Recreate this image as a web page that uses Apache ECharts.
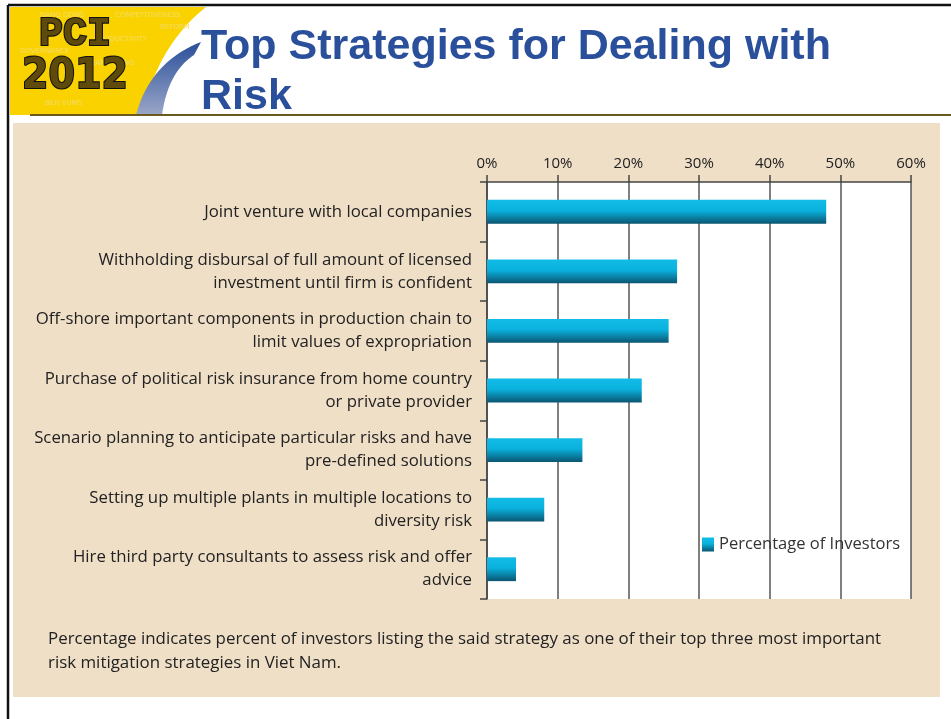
<!DOCTYPE html>
<html>
<head>
<meta charset="utf-8">
<script src="https://cdn.jsdelivr.net/npm/echarts@6/dist/echarts.min.js"></script>
<style>
html,body{margin:0;padding:0;background:#fff;}
#chart{width:951px;height:719px;background: linear-gradient(#efdfc7,#efdfc7) 13px 123px / 927px 574px no-repeat, #fff;}
</style>
</head>
<body>
<div id="chart"></div>
<script>
var categories = [
  'Joint venture with local companies',
  'Withholding disbursal of full amount of licensed\ninvestment until firm is confident',
  'Off-shore important components in production chain to\nlimit values of expropriation',
  'Purchase of political risk insurance from home country\nor private provider',
  'Scenario planning to anticipate particular risks and have\npre-defined solutions',
  'Setting up multiple plants in multiple locations to\ndiversity risk',
  'Hire third party consultants to assess risk and offer\nadvice'
];
var values = [48.0, 26.9, 25.7, 21.9, 13.5, 8.1, 4.1];
var seriesName = 'Percentage of Investors';
var titleLines = ['Top Strategies for Dealing with', 'Risk'];
var footLines = [
  'Percentage indicates percent of investors listing the said strategy as one of their top three most important',
  'risk mitigation strategies in Viet Nam.'
];
var logoWords = ['NANG DONG', 'COMPETITIVENESS', 'REFORM', 'PRODUCTIVITY', 'GOVERNANCE', 'NANG DONG', 'BEN VUNG'];

var labelFont = '"Open Sans", Lato, sans-serif';
var barGrad = new echarts.graphic.LinearGradient(0, 0, 0, 1, [
  {offset: 0, color: '#12bce7'},
  {offset: 0.45, color: '#0ab1dd'},
  {offset: 1, color: '#0b5571'}
]);

// sample a quadratic bezier into points (decoration shape only)
function quad(p0, p1, p2, n) {
  var pts = [];
  for (var i = 0; i <= n; i++) {
    var t = i / n, a = (1 - t) * (1 - t), b = 2 * (1 - t) * t, c = t * t;
    pts.push([a * p0[0] + b * p1[0] + c * p2[0], a * p0[1] + b * p1[1] + c * p2[1]]);
  }
  return pts;
}
var yellowPts = [[10, 7]].concat(quad([206, 7], [158, 45], [142, 115], 20)).concat([[10, 115]]);
var swooshPts = quad([136, 115], [150, 62], [201, 42], 20).concat(quad([194, 55], [168, 72], [162, 115], 20));

var wordPos = [[40,12],[115,12],[160,24],[95,36],[20,48],[90,60],[45,100]];
var logoGraphics = logoWords.map(function(w, i){
  return {type:'text', z:1, style:{text:w, x:wordPos[i][0], y:wordPos[i][1], fill:'#f3dc6a', font:'7px "DejaVu Sans", sans-serif'}};
});

var chart = echarts.init(document.getElementById('chart'), null, {renderer:'canvas'});
chart.setOption({
  animation: false,
  backgroundColor: 'transparent',
  grid: {left: 487, right: 40, top: 182, bottom: 120, show: true, backgroundColor: '#ffffff', borderWidth: 0},
  legend: {
    show: true, left: 697, top: 531, itemWidth: 12, itemHeight: 14, itemGap: 5,
    data: [{name: seriesName, icon: 'rect'}],
    textStyle: {fontFamily: labelFont, fontSize: 16.5, color: '#333'}
  },
  xAxis: {
    type: 'value', position: 'top', min: 0, max: 60, interval: 10,
    axisLine: {show: true, lineStyle: {color: '#444', width: 1.5}},
    axisTick: {show: true, length: 7, lineStyle: {color: '#444', width: 1.5}},
    splitLine: {show: true, lineStyle: {color: '#555', width: 1.5}},
    axisLabel: {formatter: function(v){ return v + '%'; }, fontFamily: labelFont, fontSize: 15, color: '#222', margin: 11}
  },
  yAxis: {
    type: 'category', inverse: true, data: categories,
    axisLine: {show: true, lineStyle: {color: '#444', width: 1.5}},
    axisTick: {show: true, length: 7, lineStyle: {color: '#444', width: 1.5}},
    axisLabel: {fontFamily: labelFont, fontSize: 16.8, color: '#222', margin: 15, lineHeight: 23, align: 'right', padding: [0, 0, 5, 0]}
  },
  series: [{
    name: seriesName, type: 'bar', data: values, barCategoryGap: '60%',
    itemStyle: {color: barGrad}
  }],
  graphic: [
    {type:'polygon', z:1, shape:{points: yellowPts}, style:{fill:'#fad200'}}
  ].concat(logoGraphics).concat([
    {type:'polygon', z:2, shape:{points: swooshPts}, style:{fill: new echarts.graphic.LinearGradient(0,0,0,1,[{offset:0,color:'#2a4f9a'},{offset:1,color:'#9aa6c8'}])}},
    {type:'text', z:3, style:{text:'PCI', x:75, y:15, align:'center', verticalAlign:'top', font:'bold 40px "Liberation Mono", "DejaVu Sans Mono", monospace', fill:'#5e4b0c', stroke:'#111', lineWidth:2.2}},
    {type:'text', z:3, x:75, y:56, scaleY:1.12, style:{text:'2012', x:0, y:0, align:'center', verticalAlign:'top', font:'bold 38px "DejaVu Sans", sans-serif', fill:'#5e4b0c', stroke:'#111', lineWidth:2}},
    {type:'text', z:3, style:{text:titleLines[0], x:201, y:26, verticalAlign:'top', font:'bold 43px "Liberation Sans", Arial, sans-serif', fill:'#2a509c'}},
    {type:'text', z:3, style:{text:titleLines[1], x:201, y:76, verticalAlign:'top', font:'bold 43px "Liberation Sans", Arial, sans-serif', fill:'#2a509c'}},
    {type:'line', z:3, shape:{x1:30, y1:115, x2:951, y2:115}, style:{stroke:'#6b5a1e', lineWidth:2}},
    {type:'line', z:5, shape:{x1:8, y1:5, x2:951, y2:5}, style:{stroke:'#111', lineWidth:2.5}},
    {type:'line', z:5, shape:{x1:8, y1:5, x2:8, y2:719}, style:{stroke:'#111', lineWidth:2.5}},
    {type:'text', z:3, style:{text:footLines[0], x:48, y:631, verticalAlign:'top', font:'16.9px "Open Sans", Lato, sans-serif', fill:'#222'}},
    {type:'text', z:3, style:{text:footLines[1], x:48, y:655, verticalAlign:'top', font:'16.9px "Open Sans", Lato, sans-serif', fill:'#222'}}
  ])
});
</script>
</body>
</html>
